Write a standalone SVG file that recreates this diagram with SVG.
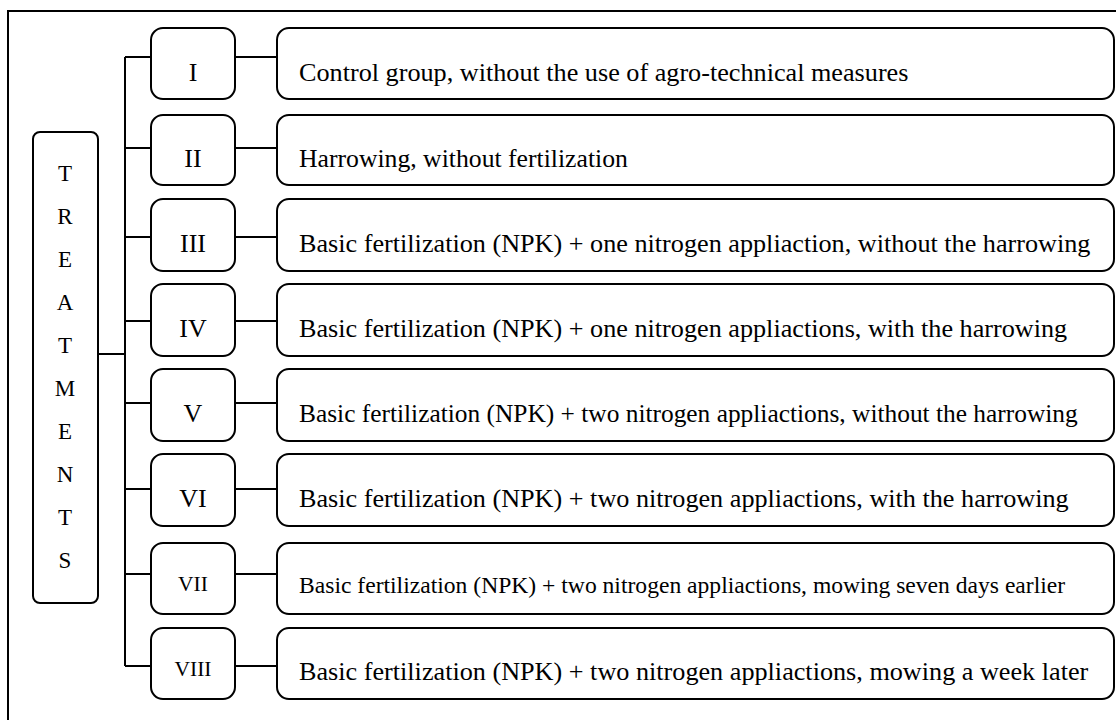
<svg xmlns="http://www.w3.org/2000/svg" width="1116" height="720" viewBox="0 0 1116 720">
<style>
  .box{fill:#fff;stroke:#000;stroke-width:2}
  .ln{fill:none;stroke:#000;stroke-width:2}
  .t{font-family:"Liberation Serif","Times New Roman",serif;fill:#000}
  .num{font-size:26px;text-anchor:middle}
  .num2{font-size:21.5px;text-anchor:middle}
  .desc{font-size:26.2px}
  .desc2{font-size:23.6px}
  .vert{font-size:23px;text-anchor:middle}
</style>
<rect width="1116" height="720" fill="#fff"/>
<rect x="8" y="11" width="1120" height="720" fill="none" stroke="#000" stroke-width="2"/>
<g id="connectors" class="ln">
  <path d="M98 354H125M125 57V666"/>
  <path d="M125 57H151M235 57H277"/>
  <path d="M125 148H151M235 148H277"/>
  <path d="M125 237H151M235 237H277"/>
  <path d="M125 321H151M235 321H277"/>
  <path d="M125 403H151M235 403H277"/>
  <path d="M125 489H151M235 489H277"/>
  <path d="M125 574H151M235 574H277"/>
  <path d="M125 666H151M235 666H277"/>
</g>
<g id="treatments">
  <rect class="box" x="33" y="132" width="65" height="471" rx="7"/>
  <g class="t vert">
    <text x="65" y="181">T</text><text x="65" y="224">R</text><text x="65" y="267">E</text><text x="65" y="310">A</text><text x="65" y="353">T</text><text x="65" y="396">M</text><text x="65" y="439">E</text><text x="65" y="482">N</text><text x="65" y="525">T</text><text x="65" y="568">S</text>
  </g>
</g>
<g id="n1"><rect class="box" x="151" y="28" width="84" height="71" rx="12"/><text class="t num" x="193" y="81">I</text></g>
<g id="n2"><rect class="box" x="151" y="115" width="84" height="70" rx="12"/><text class="t num" x="193" y="167">II</text></g>
<g id="n3"><rect class="box" x="151" y="199" width="84" height="72" rx="12"/><text class="t num" x="193" y="252">III</text></g>
<g id="n4"><rect class="box" x="151" y="284" width="84" height="72" rx="12"/><text class="t num" x="193" y="337">IV</text></g>
<g id="n5"><rect class="box" x="151" y="369" width="84" height="72" rx="12"/><text class="t num" x="193" y="422">V</text></g>
<g id="n6"><rect class="box" x="151" y="454" width="84" height="72" rx="12"/><text class="t num" x="193" y="507">VI</text></g>
<g id="n7"><rect class="box" x="151" y="543" width="84" height="71" rx="12"/><text class="t num2" x="193" y="591">VII</text></g>
<g id="n8"><rect class="box" x="151" y="628" width="84" height="71" rx="12"/><text class="t num2" x="193" y="676">VIII</text></g>
<g id="d1"><rect class="box" x="277" y="28" width="837" height="71" rx="12"/><text class="t desc" x="299" y="81">Control group, without the use of agro-technical measures</text></g>
<g id="d2"><rect class="box" x="277" y="115" width="837" height="70" rx="12"/><text class="t desc" x="299" y="167" style="font-size:25.7px">Harrowing, without fertilization</text></g>
<g id="d3"><rect class="box" x="277" y="199" width="837" height="72" rx="12"/><text class="t desc" x="299" y="252">Basic fertilization (NPK) + one nitrogen appliaction, without the harrowing</text></g>
<g id="d4"><rect class="box" x="277" y="284" width="837" height="72" rx="12"/><text class="t desc" x="299" y="337">Basic fertilization (NPK) + one nitrogen appliactions, with the harrowing</text></g>
<g id="d5"><rect class="box" x="277" y="369" width="837" height="72" rx="12"/><text class="t desc" x="299" y="422" style="font-size:25.4px">Basic fertilization (NPK) + two nitrogen appliactions, without the harrowing</text></g>
<g id="d6"><rect class="box" x="277" y="454" width="837" height="72" rx="12"/><text class="t desc" x="299" y="507">Basic fertilization (NPK) + two nitrogen appliactions, with the harrowing</text></g>
<g id="d7"><rect class="box" x="277" y="543" width="837" height="71" rx="12"/><text class="t desc2" x="299" y="593">Basic fertilization (NPK) + two nitrogen appliactions, mowing seven days earlier</text></g>
<g id="d8"><rect class="box" x="277" y="628" width="837" height="71" rx="12"/><text class="t desc" x="299" y="680">Basic fertilization (NPK) + two nitrogen appliactions, mowing a week later</text></g>
</svg>
